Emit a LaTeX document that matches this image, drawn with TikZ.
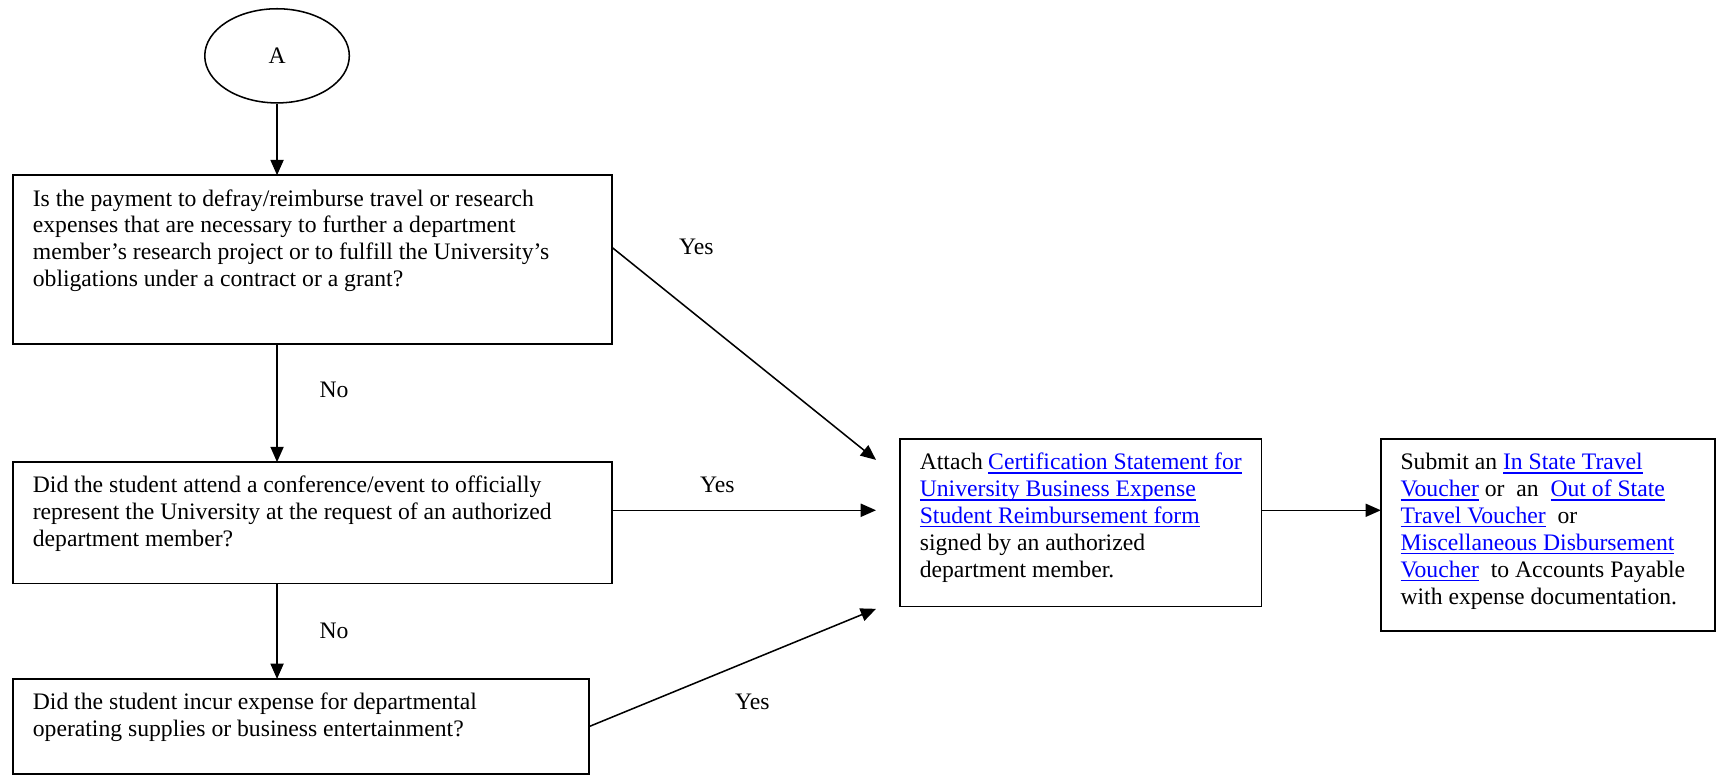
\documentclass[tikz,border=0pt]{standalone}
\usepackage{fontspec}
\setmainfont{Liberation Serif}
\usetikzlibrary{shapes.geometric,arrows.meta,calc}
\definecolor{linkblue}{RGB}{0,0,255}
\newsavebox{\lnkbox}
\newcommand{\lnk}[1]{\leavevmode\begingroup\color{linkblue}\sbox{\lnkbox}{#1}\rlap{\rule[-3.5pt]{\wd\lnkbox}{1.3pt}}\usebox{\lnkbox}\endgroup}
\newcommand{\boxtxt}[3]{\parbox[c][#1][t]{#2}{\vspace*{11pt}\raggedright\strut #3}}
\begin{document}
\begin{tikzpicture}[x=1pt,y=-1pt, line width=1.4pt,
  font=\fontsize{21.6}{24.5}\selectfont,
  box/.style={draw, rectangle, anchor=north west, inner xsep=18pt, inner ysep=0pt, outer sep=0pt},
  conn/.style={-{Triangle[length=14pt,width=12pt]}},
  lbl/.style={inner sep=0pt}]
\useasboundingbox (0,0) rectangle (1568,708);

\node[draw, ellipse, minimum width=132pt, minimum height=86pt, inner sep=0pt] (A) at (253,51) {A};

\node[box] (q1) at (12,160) {\boxtxt{154pt}{511pt}{Is the payment to defray/reimburse travel or research\\
expenses that are necessary to further a department\\
member's research project or to fulfill the University's\\
obligations under a contract or a grant?}};

\node[box] (q2) at (12,422) {\boxtxt{111pt}{511pt}{Did the student attend a conference/event to officially\\
represent the University at the request of an authorized\\
department member?}};

\node[box] (q3) at (12,620) {\boxtxt{87pt}{490pt}{Did the student incur expense for departmental\\
operating supplies or business entertainment?}};

\node[box] (cert) at (822,401) {\boxtxt{153pt}{294pt}{Attach \lnk{Certification Statement for}\\
\lnk{University Business Expense}\\
\lnk{Student Reimbursement form}\\
signed by an authorized\\
department member.}};

\node[box] (sub) at (1261,401) {\boxtxt{175pt}{269pt}{Submit an \lnk{In State Travel}\\
\lnk{Voucher} or~ an~ \lnk{Out of State}\\
\lnk{Travel Voucher}~ or\\
\lnk{Miscellaneous Disbursement}\\
\lnk{Voucher}~ to Accounts Payable\\
with expense documentation.}};

\coordinate (e1) at (800,420);
\coordinate (e2) at (800,466);
\coordinate (e3) at (800,556);

\draw[conn] (A.south) -- (A.south |- q1.north);
\draw[conn] (A.south |- q1.south) -- (A.south |- q2.north);
\draw[conn] (A.south |- q2.south) -- (A.south |- q3.north);

\draw[conn] ([yshift=11pt]q1.east) -- (e1);
\draw[conn] (q2.east |- e2) -- (e2);
\draw[conn] (q3.east) -- (e3);
\draw[conn] (cert.east |- e2) -- (sub.west |- e2);

\node[lbl] (no1) at (305,356) {No};
\node[lbl] (no2) at (305,576) {No};
\node[lbl] (yes1) at (636,225) {Yes};
\node[lbl] (yes2) at (655,443) {Yes};
\node[lbl] (yes3) at (687,641) {Yes};
\end{tikzpicture}
\end{document}
